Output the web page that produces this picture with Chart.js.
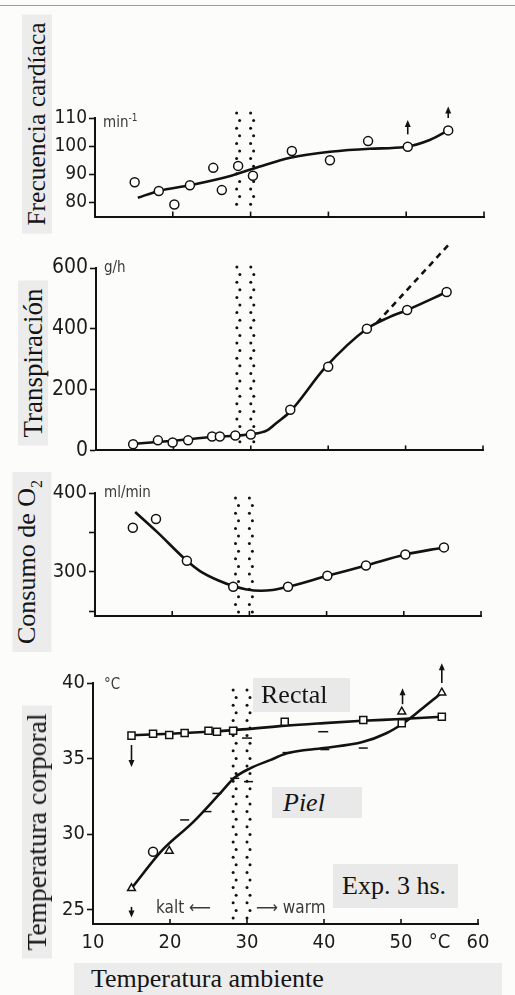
<!DOCTYPE html>
<html>
<head>
<meta charset="utf-8">
<script src="https://cdn.jsdelivr.net/npm/chart.js@4/dist/chart.umd.min.js"></script>
<style>
  html, body { margin: 0; padding: 0; }
  body { width: 515px; height: 995px; overflow: hidden; position: relative; background: #fcfcfb; }
  .panel { position: absolute; left: 0; }
  .vt { position: absolute; white-space: nowrap; transform: translate(-50%, -50%) rotate(-90deg);
        font-family: "Liberation Serif", "DejaVu Serif", serif; font-size: 24px; color: #141414;
        background: #ececec; padding: 1px 8px; line-height: 28px; }
  .lbl { position: absolute; white-space: nowrap; font-family: "Liberation Serif", "DejaVu Serif", serif;
         font-size: 26px; color: #141414; background: #e9e9e9; }
  .unit { position: absolute; white-space: nowrap; font-family: "DejaVu Sans Condensed", "Liberation Sans Narrow", "DejaVu Sans", sans-serif;
          font-size: 15px; color: #3a3a3a; }
  .edge { position: absolute; left: 0; top: 5px; width: 515px; height: 1px; background: #9a9a9a; }
</style>
</head>
<body>
<div class="edge"></div>

<canvas id="p1" class="panel" width="515" height="130" style="top:100px"></canvas>
<canvas id="p2" class="panel" width="515" height="225" style="top:240px"></canvas>
<canvas id="p3" class="panel" width="515" height="155" style="top:475px"></canvas>
<canvas id="p4" class="panel" width="515" height="305" style="top:650px"></canvas>

<div class="vt" style="left:37px; top:124px; font-size:25.5px;">Frecuencia cardíaca</div>
<div class="vt" style="left:33px; top:363px; font-size:27px;">Transpiración</div>
<div class="vt" style="left:32px; top:562px; font-size:26px;">Consumo de O<sub style="font-size:16px">2</sub></div>
<div class="vt" style="left:37px; top:832px; font-size:27.5px;">Temperatura corporal</div>

<div class="unit" style="left:103px; top:112px;">min<sup style="font-size:10px">-1</sup></div>
<div class="unit" style="left:104px; top:258px;">g/h</div>
<div class="unit" style="left:104px; top:483px;">ml/min</div>
<div class="unit" style="left:104px; top:675px;">°C</div>

<div class="lbl" style="left:253px; top:678px; width:97px; height:34px; line-height:34px; padding-left:8px; box-sizing:border-box;">Rectal</div>
<div class="lbl" style="left:272px; top:787px; width:90px; height:31px; line-height:31px; padding-left:11px; box-sizing:border-box; font-style:italic;">Piel</div>
<div class="lbl" style="left:333px; top:864px; width:125px; height:44px; line-height:44px; padding-left:9px; box-sizing:border-box;">Exp. 3 hs.</div>

<div class="unit" style="left:156px; top:897px; font-size:17px;">kalt&nbsp;⟵</div>
<div class="unit" style="left:256px; top:897px; font-size:17px;">⟶&nbsp;warm</div>

<div class="lbl" style="left:74px; top:963px; width:428px; height:32px; line-height:32px; padding-left:17px; box-sizing:border-box; background:#ececec;">Temperatura ambiente</div>

<script>
// ---- Frecuencia cardíaca (min^-1) ----
const hrTemps        = [15.1, 18.2, 20.2, 22.2, 25.2, 26.3, 28.4, 30.3, 35.3, 40.2, 45.1, 50.2, 55.4];
const hrValues       = [87.2, 84.1, 79.3, 86.1, 92.3, 84.4, 93.0, 89.5, 98.3, 95.0, 101.8, 99.8, 105.6];
const hrCurveTemps   = [15.5, 18.2, 22.2, 27.4, 31.2, 35.1, 40.2, 45.3, 49.8, 53.1, 55.4];
const hrCurveValues  = [81.7, 84.1, 86.1, 89.4, 92.8, 95.9, 98.0, 99.1, 99.7, 102.3, 105.6];
const hrArrowTemps   = [50.2, 55.4];
const hrArrowFrom    = [104.2, 110.0];
const hrArrowTo      = [109.3, 114.1];
const hrTicks        = [80, 90, 100, 110];

// ---- Transpiración (g/h) ----
const swTemps        = [14.8, 18.0, 19.9, 21.9, 25.0, 26.0, 28.0, 30.0, 35.1, 40.0, 45.0, 50.2, 55.3];
const swValues       = [20, 33, 26, 33, 46, 46, 49, 52, 134, 275, 400, 462, 521];
const swCurveTemps   = [15.0, 20.0, 25.0, 30.0, 32.1, 33.4, 35.1, 39.6, 45.0, 47.7, 50.2, 55.3];
const swCurveValues  = [22, 32, 44, 53, 66, 92, 128, 272, 400, 436, 462, 521];
const swTrendTemps   = [46.3, 55.5];
const swTrendValues  = [420, 675];
const swTicks        = [0, 200, 400, 600];

// ---- Consumo de O2 (ml/min) ----
const o2Temps        = [14.9, 17.9, 21.9, 27.9, 35.0, 40.1, 45.1, 50.2, 55.2];
const o2Values       = [356, 367, 314, 281, 281, 295, 308, 322, 331];
const o2CurveTemps   = [15.2, 18.0, 21.9, 23.6, 26.0, 27.9, 29.5, 31.5, 33.0, 35.0, 40.1, 45.1, 50.2, 55.2];
const o2CurveValues  = [376, 351, 314, 301, 289, 282, 278, 276, 277, 281, 295, 308, 322, 331];
const o2Ticks        = [250, 300, 350, 400];
const o2TickLabels   = ['', '300', '', '400'];

// ---- Temperatura corporal (°C) ----
const rectalTemps       = [15.0, 17.8, 19.9, 21.9, 25.0, 26.1, 28.2, 30.0, 34.9, 39.9, 45.1, 50.1, 55.3];
const rectalValues      = [36.52, 36.65, 36.56, 36.69, 36.84, 36.78, 36.84, 36.36, 37.44, 36.78, 37.55, 37.34, 37.77];
const rectalCurveTemps  = [15.0, 20.0, 25.0, 30.0, 35.0, 40.0, 45.0, 50.0, 55.3];
const rectalCurveValues = [36.55, 36.65, 36.78, 36.95, 37.18, 37.35, 37.5, 37.62, 37.77];
const skinTemps         = [15.0, 17.8, 19.9, 21.9, 24.8, 26.1, 28.4, 30.2, 35.2, 40.1, 45.1, 50.1, 55.3];
const skinValues        = [26.43, 28.85, 28.9, 30.95, 31.5, 32.7, 33.7, 33.48, 35.4, 35.6, 35.7, 38.1, 39.36];
const skinCurveTemps    = [15.0, 19.0, 23.0, 26.5, 28.4, 30.4, 33.0, 35.2, 40.0, 45.0, 48.1, 50.3, 52.0, 55.3];
const skinCurveValues   = [26.43, 28.95, 30.8, 32.7, 33.75, 34.36, 34.9, 35.35, 35.7, 36.1, 36.68, 37.34, 38.0, 39.36];
const bodyArrowTemps    = [15.0, 15.0, 50.2, 55.3];
const bodyArrowFrom     = [35.9, 25.2, 38.6, 40.0];
const bodyArrowTo       = [34.45, 24.5, 39.66, 41.3];
const bodyTicks         = [25, 30, 35, 40];

// ---- Temperatura ambiente (°C) ----
const ambientTicks      = [10, 20, 30, 40, 50, 55, 60];
const ambientTickLabels = ['10', '20', '30', '40', '50', '°C', '60'];
const ambientMarks      = [20, 30, 40, 50, 60];
const neutralZone       = [28.2, 30.0];

const INK = '#121212';
const TICK_FONT = '"DejaVu Sans Condensed", "Liberation Sans Narrow", "DejaVu Sans", sans-serif';

const xy = (xs, ys) => xs.map((x, i) => ({ x, y: ys[i] }));

const rectalStyles = ['rect','rect','rect','rect','rect','rect','rect','line','rect','line','rect','rect','rect'];
const skinStyles   = ['triangle','circle','triangle','line','line','line','line','line','line','line','line','triangle','triangle'];

// dotted neutral zone, inward tick marks on the ambient axis, and arrows
const decor = {
  id: 'decor',
  beforeDatasetsDraw(chart, args, o) {
    const { ctx, chartArea: a, scales: { x } } = chart;
    ctx.save();
    ctx.strokeStyle = INK; ctx.lineWidth = 1.6;
    for (const v of ambientMarks) {
      const px = x.getPixelForValue(v);
      ctx.beginPath(); ctx.moveTo(px, a.bottom); ctx.lineTo(px, a.bottom - 5); ctx.stroke();
    }
    const l = x.getPixelForValue(neutralZone[0]);
    const r = x.getPixelForValue(neutralZone[1]);
    ctx.fillStyle = INK;
    let row = 0;
    for (let py = a.top + o.zoneTop; py <= a.bottom - o.zoneBottom; py += 7.6, row++) {
      const off = row % 2 ? 3 : 0;
      for (const px of [l + off, r + off]) {
        ctx.beginPath(); ctx.arc(px, py, 1.5, 0, Math.PI * 2); ctx.fill();
      }
    }
    ctx.restore();
  },
  afterDatasetsDraw(chart, args, o) {
    const { ctx, scales: { x, y } } = chart;
    const at = o.arrowTemps || [];
    ctx.save();
    ctx.strokeStyle = INK; ctx.fillStyle = INK; ctx.lineWidth = 1.6;
    at.forEach((t, i) => {
      const px = x.getPixelForValue(t);
      const y0 = y.getPixelForValue(o.arrowFrom[i]);
      const y1 = y.getPixelForValue(o.arrowTo[i]);
      const dir = y1 < y0 ? -1 : 1;
      ctx.beginPath(); ctx.moveTo(px, y0); ctx.lineTo(px, y1 - dir * 6); ctx.stroke();
      ctx.beginPath();
      ctx.moveTo(px, y1); ctx.lineTo(px - 3, y1 - dir * 7); ctx.lineTo(px + 3, y1 - dir * 7); ctx.closePath(); ctx.fill();
    });
    ctx.restore();
  }
};

function panel(id, geo, yCfg, datasets, decorOpts, showX) {
  const cv = document.getElementById(id);
  const top = parseInt(cv.style.top, 10);
  return new Chart(cv, {
    type: 'line',
    data: { datasets },
    plugins: [decor],
    options: {
      responsive: false, animation: false, devicePixelRatio: 1,
      layout: { padding: { top: geo.top - top, right: 515 - geo.right, left: 0, bottom: 0 } },
      plugins: { legend: { display: false }, tooltip: { enabled: false }, decor: decorOpts },
      scales: {
        x: {
          type: 'linear', min: 10, max: 60,
          afterFit: s => { s.height = top + cv.height - geo.bottom; },
          afterBuildTicks: s => { s.ticks = ambientTicks.map(v => ({ value: v })); },
          grid: { drawOnChartArea: false, drawTicks: false },
          border: { color: INK, width: 2 },
          ticks: {
            display: showX, padding: 7, color: '#1c1c1c', maxRotation: 0, autoSkip: false,
            font: { family: TICK_FONT, size: 20 },
            callback: (v, i) => ambientTickLabels[i]
          }
        },
        y: {
          type: 'linear', min: yCfg.min, max: yCfg.max,
          afterFit: s => { s.width = geo.left; },
          afterBuildTicks: s => { s.ticks = yCfg.ticks.map(v => ({ value: v })); },
          grid: { drawOnChartArea: false, tickLength: 6, tickColor: INK, tickWidth: 1.6 },
          border: { color: INK, width: 2 },
          ticks: {
            padding: 2, color: '#1c1c1c', autoSkip: false,
            font: { family: TICK_FONT, size: yCfg.fontSize || 18 },
            callback: (v, i) => yCfg.labels ? yCfg.labels[i] : String(v)
          }
        }
      }
    }
  });
}

const curve = (data, extra) => Object.assign({
  data, borderColor: INK, borderWidth: 2.6, pointRadius: 0, showLine: true,
  cubicInterpolationMode: 'monotone', fill: false
}, extra || {});
const marks = (data, extra) => Object.assign({
  data, showLine: false, pointRadius: 4.5, pointStyle: 'circle',
  pointBackgroundColor: '#fff', pointBorderColor: INK, pointBorderWidth: 1.5
}, extra || {});

panel('p1', { top: 118, bottom: 221, left: 95, right: 484 },
  { min: 75, max: 110, ticks: hrTicks, fontSize: 19 },
  [ marks(xy(hrTemps, hrValues)), curve(xy(hrCurveTemps, hrCurveValues)) ],
  { zoneTop: -5, zoneBottom: 6, arrowTemps: hrArrowTemps, arrowFrom: hrArrowFrom, arrowTo: hrArrowTo }, false);

panel('p2', { top: 268, bottom: 451, left: 96, right: 483 },
  { min: 0, max: 600, ticks: swTicks, fontSize: 21 },
  [ marks(xy(swTemps, swValues)),
    curve(xy(swCurveTemps, swCurveValues)),
    curve(xy(swTrendTemps, swTrendValues), { borderDash: [6, 5], cubicInterpolationMode: 'default', tension: 0, clip: false }) ],
  { zoneTop: -1, zoneBottom: 3 }, false);

panel('p3', { top: 493, bottom: 618, left: 95, right: 481 },
  { min: 244, max: 400, ticks: o2Ticks, labels: o2TickLabels, fontSize: 20 },
  [ marks(xy(o2Temps, o2Values)), curve(xy(o2CurveTemps, o2CurveValues)) ],
  { zoneTop: 5, zoneBottom: 3 }, false);

panel('p4', { top: 683, bottom: 924, left: 93, right: 478 },
  { min: 24.07, max: 40, ticks: bodyTicks, fontSize: 20 },
  [ marks(xy(rectalTemps, rectalValues), { pointStyle: rectalStyles, pointRadius: 5 }),
    marks(xy(skinTemps, skinValues), { pointStyle: skinStyles, pointRadius: 4.5 }),
    curve(xy(rectalCurveTemps, rectalCurveValues)),
    curve(xy(skinCurveTemps, skinCurveValues)) ],
  { zoneTop: 7, zoneBottom: 4, arrowTemps: bodyArrowTemps, arrowFrom: bodyArrowFrom, arrowTo: bodyArrowTo }, true);
</script>
</body>
</html>
